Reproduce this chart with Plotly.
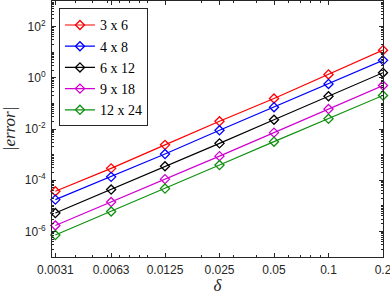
import plotly.graph_objects as go
import math

delta = [0.0031, 0.0063, 0.0125, 0.025, 0.05, 0.1, 0.2]
xtick_labels = ["0.0031", "0.0063", "0.0125", "0.025", "0.05", "0.1", "0.2"]

names = ["3 x 6", "4 x 8", "6 x 12", "9 x 18", "12 x 24"]
err_3x6 = [3.7e-5, 2.9e-4, 2.4e-3, 2.0e-2, 0.155, 1.35, 12.0]
err_4x8 = [1.74e-5, 1.35e-4, 1.05e-3, 8.9e-3, 7.1e-2, 0.575, 4.8]
err_6x12 = [5.2e-6, 4.3e-5, 3.5e-4, 2.75e-3, 2.3e-2, 0.19, 1.58]
err_9x18 = [1.7e-6, 1.4e-5, 1.1e-4, 8.7e-4, 7.2e-3, 6.0e-2, 0.50]
err_12x24 = [7.2e-7, 6.0e-6, 4.7e-5, 3.9e-4, 3.2e-3, 2.5e-2, 0.204]
series = [err_3x6, err_4x8, err_6x12, err_9x18, err_12x24]
colors = ["#FF0000", "#0000FF", "#000000", "#D000D0", "#109010"]

ytick_vals = [1e-6, 1e-4, 1e-2, 1e0, 1e2]
ytick_text = ["10<sup>-6</sup>", "10<sup>-4</sup>", "10<sup>-2</sup>", "10<sup>0</sup>", "10<sup>2</sup>"]

fig = go.Figure()
for name, ys, c in zip(names, series, colors):
    fig.add_trace(go.Scatter(
        x=delta, y=ys, name=name, mode="lines+markers",
        line=dict(color=c, width=1.2),
        marker=dict(symbol="diamond-open", size=7, color=c, line=dict(width=1.3, color=c)),
        cliponaxis=False,
    ))

axcol = "#262626"
x_minor = [m * 10.0 ** e for e in (-3, -2, -1) for m in range(1, 10) if 0.003 <= m * 10.0 ** e <= 0.2]
y_minor = [m * 10.0 ** e for e in range(-7, 3) for m in range(1, 10)
           if 1e-7 <= m * 10.0 ** e <= 1e3 and not (m == 1 and e % 2 == 0)]

fig.update_layout(
    width=390, height=295,
    margin=dict(l=52, r=7, t=1, b=38, autoexpand=False),
    paper_bgcolor="white", plot_bgcolor="white",
    showlegend=True,
    legend=dict(
        x=0.021, y=0.971, xanchor="left", yanchor="top",
        bgcolor="white", bordercolor=axcol, borderwidth=1,
        font=dict(family="Liberation Serif", size=14, color="black"),
        tracegroupgap=0, itemwidth=30,
    ),
    xaxis=dict(
        type="log", range=[math.log10(0.00297), math.log10(0.2)], autorange=False,
        automargin=False, ticklabeloverflow="allow",
        tickmode="array", tickvals=delta, ticktext=xtick_labels,
        ticks="inside", ticklen=4, tickcolor=axcol,
        showline=True, linecolor=axcol, linewidth=1, mirror="allticks",
        showgrid=False, zeroline=False,
        tickfont=dict(family="Liberation Sans", size=12, color=axcol),
        ticklabelstandoff=2,
        minor=dict(tickmode="array", tickvals=x_minor, ticks="inside", ticklen=2, tickcolor=axcol, showgrid=False),
        title=dict(text="<i>δ</i>", font=dict(family="Liberation Serif", size=17, color=axcol), standoff=0),
    ),
    yaxis=dict(
        type="log", range=[-7, 3], autorange=False,
        automargin=False, ticklabeloverflow="allow",
        tickmode="array", tickvals=ytick_vals, ticktext=ytick_text,
        ticks="inside", ticklen=4, tickcolor=axcol,
        showline=True, linecolor=axcol, linewidth=1, mirror="allticks",
        showgrid=False, zeroline=False,
        tickfont=dict(family="Liberation Sans", size=12, color=axcol),
        ticklabelstandoff=3,
        minor=dict(tickmode="array", tickvals=y_minor, ticks="inside", ticklen=2, tickcolor=axcol, showgrid=False),
        title=dict(text="<i>|error|</i>", font=dict(family="Liberation Serif", size=17, color=axcol), standoff=6),
    ),
)

fig.write_html("out.html", config={"displayModeBar": False},
               post_script="document.body.style.margin='0';document.body.style.padding='0';")
